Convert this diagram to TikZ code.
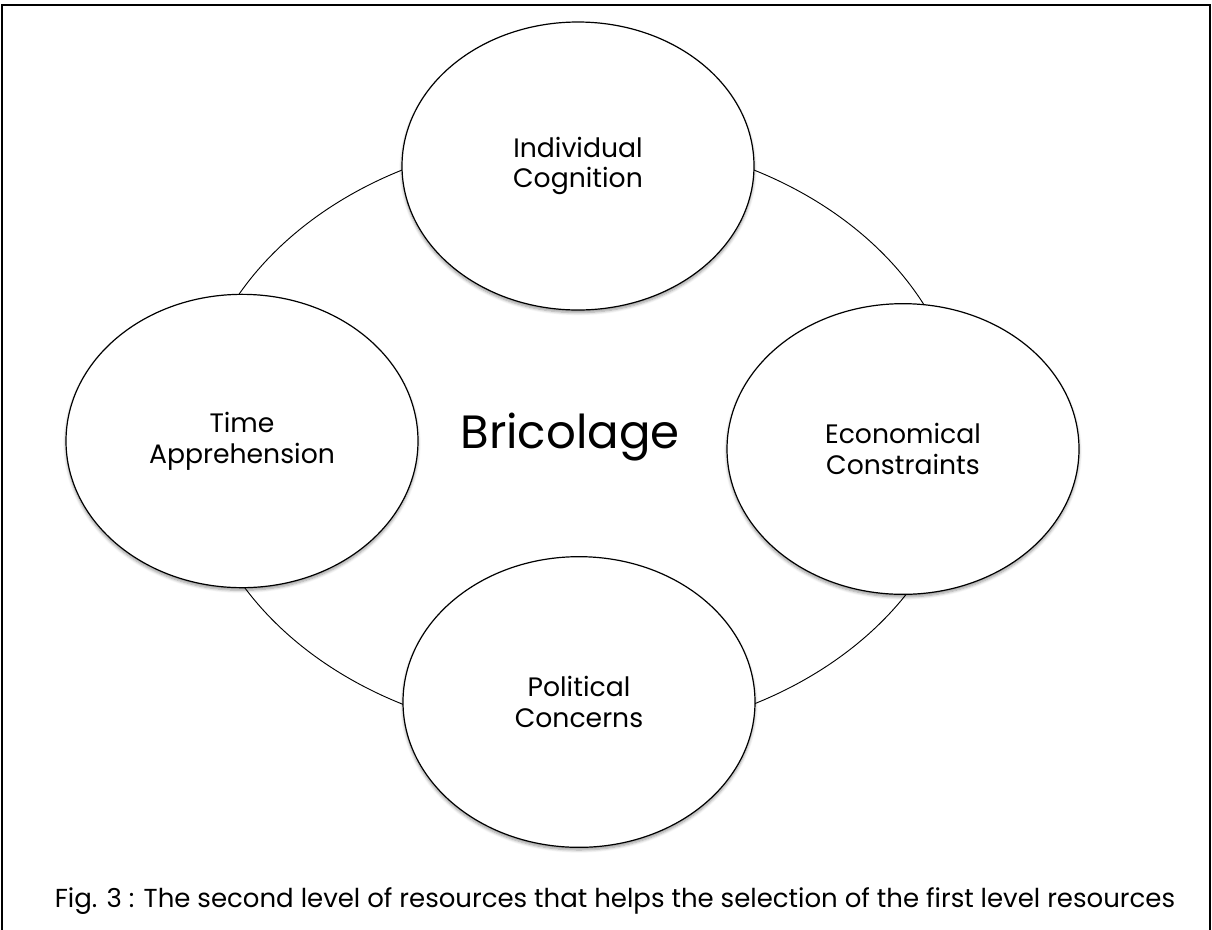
\documentclass[tikz,border=0pt]{standalone}
\usepackage{fontspec}
\setmainfont{Poppins}
\usepackage{tikz}
\usetikzlibrary{shapes.geometric, shadows.blur}
\tikzstyle{resource} = [ellipse, minimum width=264pt, minimum height=218pt, inner sep=0pt, line width=0.9pt, draw=black, fill=white, align=center, font=\fontsize{20}{23}\selectfont, blur shadow={shadow xshift=0pt, shadow yshift=-2pt, shadow blur steps=6, shadow opacity=40}]
\tikzstyle{core} = [ellipse, minimum width=578pt, minimum height=450pt, inner sep=0pt, line width=0.7pt, draw=black]

\begin{document}
\begin{tikzpicture}[x=0.75pt, y=-0.75pt]
  \useasboundingbox (0,0) rectangle (1212,929);

  % Frame
  \draw [line width=1.5pt] (2,935) -- (2,5) -- (1210,5) -- (1210,935);

  % Centre
  \node (bricolage) [core] at (578,437) {};
  \node (label) at (570,437) [font=\fontsize{35}{40}\selectfont] {Bricolage};

  % Resources
  \node (cognition) [resource, minimum height=216pt] at (578,166) {Individual\\Cognition};
  \node (time) [resource, minimum height=220pt] at (242,441) {Time\\Apprehension};
  \node (economy) [resource] at (903,449) {Economical\\Constraints};
  \node (politics) [resource] at (579,702) {Political\\Concerns};

  % Caption
  \node (caption) [anchor=base, font=\fontsize{19.5}{23}\selectfont] at (615,907) {Fig. 3 : The second level of resources that helps the selection of the first level resources};

\end{tikzpicture}
\end{document}
